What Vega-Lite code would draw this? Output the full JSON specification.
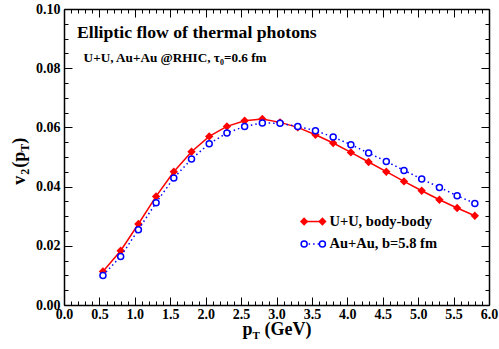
{
  "$schema": "https://vega.github.io/schema/vega-lite/v6.json",
  "autosize": {"type": "none"},
  "padding": {"left": 64, "top": 9, "right": 10, "bottom": 44},
  "width": 425,
  "height": 296,
  "background": "white",
  "config": {
    "view": {"stroke": null},
    "font": "Liberation Serif",
    "axis": {
      "labelFont": "Liberation Serif",
      "labelFontWeight": "bold",
      "labelFontSize": 14,
      "labelColor": "black",
      "domainColor": "black",
      "domainWidth": 1.5,
      "tickColor": "black",
      "tickWidth": 1,
      "grid": false,
      "labelFlush": false,
      "labelOverlap": false
    },
    "text": {"font": "Liberation Serif", "fontWeight": "bold", "color": "black"}
  },
  "datasets": {
    "photons": [
      {"pt": 0.55, "v2": 0.01135, "series": "UU"},
      {"pt": 0.80, "v2": 0.01834, "series": "UU"},
      {"pt": 1.05, "v2": 0.02736, "series": "UU"},
      {"pt": 1.30, "v2": 0.03669, "series": "UU"},
      {"pt": 1.55, "v2": 0.04503, "series": "UU"},
      {"pt": 1.80, "v2": 0.05179, "series": "UU"},
      {"pt": 2.05, "v2": 0.05696, "series": "UU"},
      {"pt": 2.30, "v2": 0.06034, "series": "UU"},
      {"pt": 2.55, "v2": 0.06226, "series": "UU"},
      {"pt": 2.80, "v2": 0.06284, "series": "UU"},
      {"pt": 3.05, "v2": 0.06170, "series": "UU"},
      {"pt": 3.30, "v2": 0.06000, "series": "UU"},
      {"pt": 3.55, "v2": 0.05753, "series": "UU"},
      {"pt": 3.80, "v2": 0.05473, "series": "UU"},
      {"pt": 4.05, "v2": 0.05155, "series": "UU"},
      {"pt": 4.30, "v2": 0.04831, "series": "UU"},
      {"pt": 4.55, "v2": 0.04503, "series": "UU"},
      {"pt": 4.80, "v2": 0.04176, "series": "UU"},
      {"pt": 5.05, "v2": 0.03861, "series": "UU"},
      {"pt": 5.30, "v2": 0.03557, "series": "UU"},
      {"pt": 5.55, "v2": 0.03277, "series": "UU"},
      {"pt": 5.80, "v2": 0.03017, "series": "UU"},
      {"pt": 0.55, "v2": 0.01000, "series": "AuAu"},
      {"pt": 0.80, "v2": 0.01642, "series": "AuAu"},
      {"pt": 1.05, "v2": 0.02544, "series": "AuAu"},
      {"pt": 1.30, "v2": 0.03456, "series": "AuAu"},
      {"pt": 1.55, "v2": 0.04291, "series": "AuAu"},
      {"pt": 1.80, "v2": 0.04932, "series": "AuAu"},
      {"pt": 2.05, "v2": 0.05449, "series": "AuAu"},
      {"pt": 2.30, "v2": 0.05811, "series": "AuAu"},
      {"pt": 2.55, "v2": 0.06034, "series": "AuAu"},
      {"pt": 2.80, "v2": 0.06149, "series": "AuAu"},
      {"pt": 3.05, "v2": 0.06140, "series": "AuAu"},
      {"pt": 3.30, "v2": 0.06034, "series": "AuAu"},
      {"pt": 3.55, "v2": 0.05889, "series": "AuAu"},
      {"pt": 3.80, "v2": 0.05676, "series": "AuAu"},
      {"pt": 4.05, "v2": 0.05416, "series": "AuAu"},
      {"pt": 4.30, "v2": 0.05135, "series": "AuAu"},
      {"pt": 4.55, "v2": 0.04851, "series": "AuAu"},
      {"pt": 4.80, "v2": 0.04547, "series": "AuAu"},
      {"pt": 5.05, "v2": 0.04257, "series": "AuAu"},
      {"pt": 5.30, "v2": 0.03973, "series": "AuAu"},
      {"pt": 5.55, "v2": 0.03693, "series": "AuAu"},
      {"pt": 5.80, "v2": 0.03432, "series": "AuAu"}
    ],
    "one": [{}]
  },
  "resolve": {"axis": {"x": "independent", "y": "independent"}},
  "layer": [
    {
      "data": {"name": "photons"},
      "transform": [{"filter": "datum.series == 'UU'"}],
      "mark": {"type": "line", "color": "#ff0000", "strokeWidth": 1.5},
      "encoding": {
        "x": {"field": "pt", "type": "quantitative", "scale": {"domain": [0, 6], "nice": false},
          "axis": {"orient": "bottom", "title": null,
            "values": [0,0.1,0.2,0.3,0.4,0.5,0.6,0.7,0.8,0.9,1,1.1,1.2,1.3,1.4,1.5,1.6,1.7,1.8,1.9,2,2.1,2.2,2.3,2.4,2.5,2.6,2.7,2.8,2.9,3,3.1,3.2,3.3,3.4,3.5,3.6,3.7,3.8,3.9,4,4.1,4.2,4.3,4.4,4.5,4.6,4.7,4.8,4.9,5,5.1,5.2,5.3,5.4,5.5,5.6,5.7,5.8,5.9,6],
            "tickSize": {"condition": {"test": "abs(datum.value*2-round(datum.value*2))<0.001", "value": -8}, "value": -4},
            "labelExpr": "abs(datum.value*2-round(datum.value*2))<0.001 ? format(datum.value,'.1f') : ''",
            "labelPadding": 10}},
        "y": {"field": "v2", "type": "quantitative", "scale": {"domain": [0, 0.1], "nice": false},
          "axis": {"orient": "left", "title": null,
            "values": [0,0.005,0.01,0.015,0.02,0.025,0.03,0.035,0.04,0.045,0.05,0.055,0.06,0.065,0.07,0.075,0.08,0.085,0.09,0.095,0.1],
            "tickSize": {"condition": {"test": "abs(datum.value*50-round(datum.value*50))<0.001", "value": -8}, "value": -4},
            "labelExpr": "abs(datum.value*50-round(datum.value*50))<0.001 ? format(datum.value,'.2f') : ''",
            "labelPadding": 12}}
      }
    },
    {
      "data": {"name": "photons"},
      "transform": [{"filter": "datum.series == 'UU'"}],
      "mark": {"type": "point", "shape": "diamond", "filled": true, "color": "#ff0000", "size": 70, "opacity": 1},
      "encoding": {
        "x": {"field": "pt", "type": "quantitative", "scale": {"domain": [0, 6], "nice": false}, "axis": null},
        "y": {"field": "v2", "type": "quantitative", "scale": {"domain": [0, 0.1], "nice": false}, "axis": null}
      }
    },
    {
      "data": {"name": "photons"},
      "transform": [{"filter": "datum.series == 'AuAu'"}],
      "mark": {"type": "line", "color": "#0000ff", "strokeWidth": 1.5, "strokeDash": [1.5, 3]},
      "encoding": {
        "x": {"field": "pt", "type": "quantitative", "scale": {"domain": [0, 6], "nice": false},
          "axis": {"orient": "top", "title": null, "labels": false,
            "values": [0,0.1,0.2,0.3,0.4,0.5,0.6,0.7,0.8,0.9,1,1.1,1.2,1.3,1.4,1.5,1.6,1.7,1.8,1.9,2,2.1,2.2,2.3,2.4,2.5,2.6,2.7,2.8,2.9,3,3.1,3.2,3.3,3.4,3.5,3.6,3.7,3.8,3.9,4,4.1,4.2,4.3,4.4,4.5,4.6,4.7,4.8,4.9,5,5.1,5.2,5.3,5.4,5.5,5.6,5.7,5.8,5.9,6],
            "tickSize": {"condition": {"test": "abs(datum.value*2-round(datum.value*2))<0.001", "value": -8}, "value": -4}}},
        "y": {"field": "v2", "type": "quantitative", "scale": {"domain": [0, 0.1], "nice": false},
          "axis": {"orient": "right", "title": null, "labels": false,
            "values": [0,0.005,0.01,0.015,0.02,0.025,0.03,0.035,0.04,0.045,0.05,0.055,0.06,0.065,0.07,0.075,0.08,0.085,0.09,0.095,0.1],
            "tickSize": {"condition": {"test": "abs(datum.value*50-round(datum.value*50))<0.001", "value": -8}, "value": -4}}}
      }
    },
    {
      "data": {"name": "photons"},
      "transform": [{"filter": "datum.series == 'AuAu'"}],
      "mark": {"type": "point", "shape": "circle", "fill": "white", "fillOpacity": 1, "stroke": "#0000ff", "strokeWidth": 1.5, "size": 36, "opacity": 1},
      "encoding": {
        "x": {"field": "pt", "type": "quantitative", "scale": {"domain": [0, 6], "nice": false}, "axis": null},
        "y": {"field": "v2", "type": "quantitative", "scale": {"domain": [0, 0.1], "nice": false}, "axis": null}
      }
    },
    {
      "data": {"name": "one"},
      "mark": {"type": "rule", "color": "#ff0000", "strokeWidth": 1.5},
      "encoding": {
        "x": {"datum": 3.39, "type": "quantitative", "scale": {"domain": [0, 6], "nice": false}, "axis": null},
        "x2": {"datum": 3.648},
        "y": {"datum": 0.0282, "type": "quantitative", "scale": {"domain": [0, 0.1], "nice": false}, "axis": null}
      }
    },
    {
      "data": {"name": "one"},
      "mark": {"type": "point", "shape": "diamond", "filled": true, "color": "#ff0000", "size": 70, "opacity": 1},
      "encoding": {
        "x": {"datum": 3.39, "type": "quantitative", "scale": {"domain": [0, 6], "nice": false}, "axis": null},
        "y": {"datum": 0.0282, "type": "quantitative", "scale": {"domain": [0, 0.1], "nice": false}, "axis": null}
      }
    },
    {
      "data": {"name": "one"},
      "mark": {"type": "point", "shape": "diamond", "filled": true, "color": "#ff0000", "size": 70, "opacity": 1},
      "encoding": {
        "x": {"datum": 3.648, "type": "quantitative", "scale": {"domain": [0, 6], "nice": false}, "axis": null},
        "y": {"datum": 0.0282, "type": "quantitative", "scale": {"domain": [0, 0.1], "nice": false}, "axis": null}
      }
    },
    {
      "data": {"name": "one"},
      "mark": {"type": "rule", "color": "#0000ff", "strokeWidth": 1.5, "strokeDash": [1.5, 3]},
      "encoding": {
        "x": {"datum": 3.39, "type": "quantitative", "scale": {"domain": [0, 6], "nice": false}, "axis": null},
        "x2": {"datum": 3.648},
        "y": {"datum": 0.0206, "type": "quantitative", "scale": {"domain": [0, 0.1], "nice": false}, "axis": null}
      }
    },
    {
      "data": {"name": "one"},
      "mark": {"type": "point", "shape": "circle", "fill": "white", "fillOpacity": 1, "stroke": "#0000ff", "strokeWidth": 1.5, "size": 36, "opacity": 1},
      "encoding": {
        "x": {"datum": 3.39, "type": "quantitative", "scale": {"domain": [0, 6], "nice": false}, "axis": null},
        "y": {"datum": 0.0206, "type": "quantitative", "scale": {"domain": [0, 0.1], "nice": false}, "axis": null}
      }
    },
    {
      "data": {"name": "one"},
      "mark": {"type": "point", "shape": "circle", "fill": "white", "fillOpacity": 1, "stroke": "#0000ff", "strokeWidth": 1.5, "size": 36, "opacity": 1},
      "encoding": {
        "x": {"datum": 3.648, "type": "quantitative", "scale": {"domain": [0, 6], "nice": false}, "axis": null},
        "y": {"datum": 0.0206, "type": "quantitative", "scale": {"domain": [0, 0.1], "nice": false}, "axis": null}
      }
    },
    {
      "data": {"name": "one"},
      "mark": {"type": "text", "text": "U+U, body-body", "fontSize": 14.5, "align": "left", "baseline": "middle"},
      "encoding": {
        "x": {"datum": 3.747, "type": "quantitative", "scale": {"domain": [0, 6], "nice": false}, "axis": null},
        "y": {"datum": 0.0282, "type": "quantitative", "scale": {"domain": [0, 0.1], "nice": false}, "axis": null}
      }
    },
    {
      "data": {"name": "one"},
      "mark": {"type": "text", "text": "Au+Au, b=5.8 fm", "fontSize": 14.5, "align": "left", "baseline": "middle"},
      "encoding": {
        "x": {"datum": 3.747, "type": "quantitative", "scale": {"domain": [0, 6], "nice": false}, "axis": null},
        "y": {"datum": 0.0206, "type": "quantitative", "scale": {"domain": [0, 0.1], "nice": false}, "axis": null}
      }
    },
    {
      "data": {"name": "one"},
      "mark": {"type": "text", "text": "Elliptic flow of thermal photons", "fontSize": 17.7, "align": "left", "baseline": "alphabetic"},
      "encoding": {
        "x": {"datum": 0.183, "type": "quantitative", "scale": {"domain": [0, 6], "nice": false}, "axis": null},
        "y": {"datum": 0.0903, "type": "quantitative", "scale": {"domain": [0, 0.1], "nice": false}, "axis": null}
      }
    },
    {
      "data": {"name": "one"},
      "mark": {"type": "text", "text": "U+U, Au+Au @RHIC, τ₀=0.6 fm", "fontSize": 13.2, "align": "left", "baseline": "alphabetic"},
      "encoding": {
        "x": {"datum": 0.277, "type": "quantitative", "scale": {"domain": [0, 6], "nice": false}, "axis": null},
        "y": {"datum": 0.0822, "type": "quantitative", "scale": {"domain": [0, 0.1], "nice": false}, "axis": null}
      }
    },
    {
      "data": {"name": "one"},
      "mark": {"type": "text", "text": "p", "fontSize": 18, "align": "left", "baseline": "alphabetic"},
      "encoding": {
        "x": {"datum": 2.52, "type": "quantitative", "scale": {"domain": [0, 6], "nice": false}, "axis": null},
        "y": {"datum": -0.0101, "type": "quantitative", "scale": {"domain": [0, 0.1], "nice": false}, "axis": null}
      }
    },
    {
      "data": {"name": "one"},
      "mark": {"type": "text", "text": "T", "fontSize": 11, "align": "left", "baseline": "alphabetic", "dx": 10, "dy": 4},
      "encoding": {
        "x": {"datum": 2.52, "type": "quantitative", "scale": {"domain": [0, 6], "nice": false}, "axis": null},
        "y": {"datum": -0.0101, "type": "quantitative", "scale": {"domain": [0, 0.1], "nice": false}, "axis": null}
      }
    },
    {
      "data": {"name": "one"},
      "mark": {"type": "text", "text": "(GeV)", "fontSize": 18, "align": "left", "baseline": "alphabetic", "dx": 22},
      "encoding": {
        "x": {"datum": 2.52, "type": "quantitative", "scale": {"domain": [0, 6], "nice": false}, "axis": null},
        "y": {"datum": -0.0101, "type": "quantitative", "scale": {"domain": [0, 0.1], "nice": false}, "axis": null}
      }
    },
    {
      "data": {"name": "one"},
      "mark": {"type": "text", "text": "v", "fontSize": 18, "align": "left", "baseline": "alphabetic", "angle": 270},
      "encoding": {
        "x": {"datum": -0.546, "type": "quantitative", "scale": {"domain": [0, 6], "nice": false}, "axis": null},
        "y": {"datum": 0.0406, "type": "quantitative", "scale": {"domain": [0, 0.1], "nice": false}, "axis": null}
      }
    },
    {
      "data": {"name": "one"},
      "mark": {"type": "text", "text": "2", "fontSize": 12, "align": "left", "baseline": "alphabetic", "angle": 270, "dx": 10, "dy": 4},
      "encoding": {
        "x": {"datum": -0.546, "type": "quantitative", "scale": {"domain": [0, 6], "nice": false}, "axis": null},
        "y": {"datum": 0.0406, "type": "quantitative", "scale": {"domain": [0, 0.1], "nice": false}, "axis": null}
      }
    },
    {
      "data": {"name": "one"},
      "mark": {"type": "text", "text": "(p", "fontSize": 18, "align": "left", "baseline": "alphabetic", "angle": 270, "dx": 17},
      "encoding": {
        "x": {"datum": -0.546, "type": "quantitative", "scale": {"domain": [0, 6], "nice": false}, "axis": null},
        "y": {"datum": 0.0406, "type": "quantitative", "scale": {"domain": [0, 0.1], "nice": false}, "axis": null}
      }
    },
    {
      "data": {"name": "one"},
      "mark": {"type": "text", "text": "T", "fontSize": 12, "align": "left", "baseline": "alphabetic", "angle": 270, "dx": 33, "dy": 4},
      "encoding": {
        "x": {"datum": -0.546, "type": "quantitative", "scale": {"domain": [0, 6], "nice": false}, "axis": null},
        "y": {"datum": 0.0406, "type": "quantitative", "scale": {"domain": [0, 0.1], "nice": false}, "axis": null}
      }
    },
    {
      "data": {"name": "one"},
      "mark": {"type": "text", "text": ")", "fontSize": 18, "align": "left", "baseline": "alphabetic", "angle": 270, "dx": 41},
      "encoding": {
        "x": {"datum": -0.546, "type": "quantitative", "scale": {"domain": [0, 6], "nice": false}, "axis": null},
        "y": {"datum": 0.0406, "type": "quantitative", "scale": {"domain": [0, 0.1], "nice": false}, "axis": null}
      }
    }
  ]
}
